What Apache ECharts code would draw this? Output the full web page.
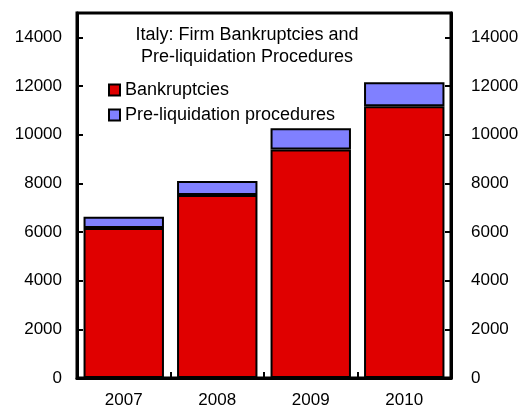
<!DOCTYPE html>
<html>
<head>
<meta charset="utf-8">
<script src="https://cdn.jsdelivr.net/npm/echarts@6/dist/echarts.min.js"></script>
<style>
  html, body { margin: 0; padding: 0; background: #fff; }
  #chart { width: 529px; height: 410px; }
</style>
</head>
<body>
<div id="chart"></div>
<script>
// 意大利企业破产与清算前程序
const years = ['2007', '2008', '2009', '2010']
const bankruptcies = [6160, 7520, 9390, 11170]
const preLiquidation = [470, 575, 870, 980]
const yTicks = [0, 2000, 4000, 6000, 8000, 10000, 12000, 14000]

const chart = echarts.init(document.getElementById('chart'))
const font = 'Liberation Sans, Arial, sans-serif'

const yAxisBase = {
  type: 'value',
  min: 0,
  max: 15000,
  interval: 2000,
  splitLine: { show: false },
  axisLine: { show: true, lineStyle: { color: '#000', width: 3 } },
  axisTick: { show: true, inside: true, length: 6, lineStyle: { color: '#000', width: 2 } },
  axisLabel: {
    color: '#000',
    fontSize: 17,
    fontFamily: font,
    showMaxLabel: false,
    formatter: v => (yTicks.indexOf(v) >= 0 ? String(v) : '')
  }
}

const option = {
  animation: false,
  grid: {
    left: 77, right: 78, top: 13, bottom: 32,
    show: true, borderColor: '#000', borderWidth: 3, backgroundColor: 'transparent'
  },
  title: {
    text: 'Italy: Firm Bankruptcies and\nPre-liquidation Procedures',
    left: 242,
    top: 19,
    textAlign: 'center',
    textStyle: { fontSize: 18, fontWeight: 'normal', color: '#000', fontFamily: font, lineHeight: 22 }
  },
  legend: {
    orient: 'vertical',
    left: 103,
    top: 76,
    itemWidth: 11,
    itemHeight: 11,
    itemGap: 7,
    icon: 'rect',
    textStyle: { fontSize: 18, color: '#000', fontFamily: font },
    data: ['Bankruptcies', 'Pre-liquidation procedures']
  },
  xAxis: {
    type: 'category',
    data: years,
    axisLine: { lineStyle: { color: '#000', width: 3 } },
    axisTick: { show: true, inside: true, length: 6, lineStyle: { color: '#000', width: 2 } },
    axisLabel: { color: '#000', fontSize: 17, fontFamily: font, margin: 14 }
  },
  yAxis: [
    Object.assign({}, yAxisBase, { position: 'left', axisLabel: Object.assign({}, yAxisBase.axisLabel, { margin: 15 }) }),
    Object.assign({}, yAxisBase, { position: 'right', axisLabel: Object.assign({}, yAxisBase.axisLabel, { margin: 20 }) })
  ],
  series: [
    {
      name: 'Bankruptcies',
      type: 'bar',
      stack: 'total',
      barCategoryGap: '14%',
      itemStyle: { color: '#e00000', borderColor: '#000', borderWidth: 2 },
      data: bankruptcies
    },
    {
      name: 'Pre-liquidation procedures',
      type: 'bar',
      stack: 'total',
      barCategoryGap: '14%',
      itemStyle: { color: '#8080ff', borderColor: '#000', borderWidth: 2 },
      data: preLiquidation
    }
  ]
}

chart.setOption(option)
</script>
</body>
</html>
